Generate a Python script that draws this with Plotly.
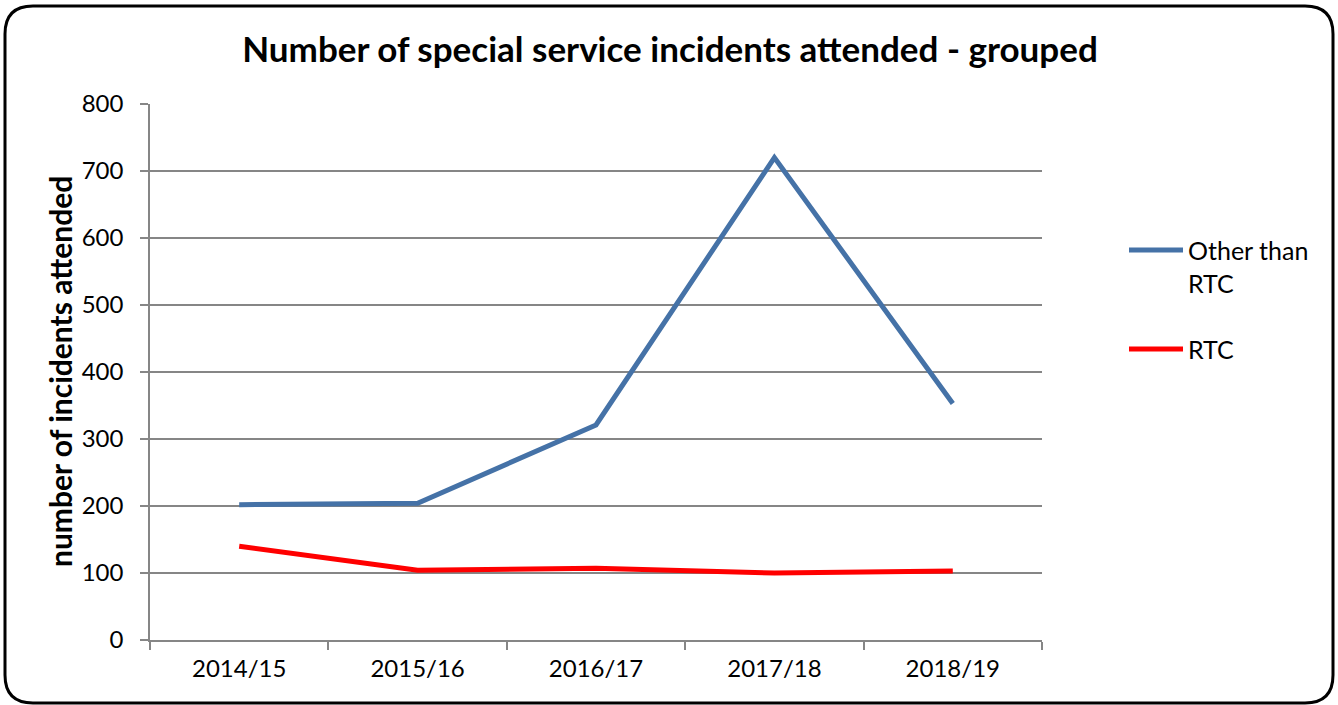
import plotly.graph_objects as go

categories = ["2014/15", "2015/16", "2016/17", "2017/18", "2018/19"]
other_than_rtc = [202, 204, 321, 720, 353]
rtc = [140, 104, 107, 100, 103]
series_names = ["Other than<br>RTC", "RTC"]
y_ticks = [0, 100, 200, 300, 400, 500, 600, 700, 800]

W, H = 1338, 705
L, R, T, B = 150, 1042, 104, 640
FONT = "Lato"

def px(x):
    return (x - L) / (R - L)

def py(y):
    return (B - y) / (B - T)

fig = go.Figure()
fig.add_trace(go.Scatter(x=categories, y=other_than_rtc, mode="lines",
                         line=dict(color="#4572A7", width=5), name=series_names[0],
                         showlegend=False))
fig.add_trace(go.Scatter(x=categories, y=rtc, mode="lines",
                         line=dict(color="#FF0000", width=5), name=series_names[1],
                         showlegend=False))

# rounded border
x0, x1, y0, y1, r = 5, 1333, 6, 703, 28
path = (f"M {px(x0+r)},{py(y0)} L {px(x1-r)},{py(y0)} Q {px(x1)},{py(y0)} {px(x1)},{py(y0+r)} "
        f"L {px(x1)},{py(y1-r)} Q {px(x1)},{py(y1)} {px(x1-r)},{py(y1)} "
        f"L {px(x0+r)},{py(y1)} Q {px(x0)},{py(y1)} {px(x0)},{py(y1-r)} "
        f"L {px(x0)},{py(y0+r)} Q {px(x0)},{py(y0)} {px(x0+r)},{py(y0)} Z")
shapes = [dict(type="path", path=path, xref="paper", yref="paper",
               line=dict(color="black", width=3), layer="above")]

# manual legend
annotations = []
legend_items = [(series_names[0], "#4572A7", 250), (series_names[1], "#FF0000", 349)]
for name, color, yy in legend_items:
    shapes.append(dict(type="line", xref="paper", yref="paper",
                       x0=px(1129), x1=px(1183), y0=py(yy), y1=py(yy),
                       line=dict(color=color, width=5)))
    annotations.append(dict(text=name, xref="paper", yref="paper", x=px(1186), y=py(yy - 17),
                            xanchor="left", yanchor="top", align="left", showarrow=False,
                            font=dict(family=FONT, size=25, color="black")))

annotations.append(dict(text="<b>number of incidents attended</b>", xref="paper", yref="paper",
                        x=px(60), y=py(372), textangle=-90, showarrow=False,
                        xanchor="center", yanchor="middle",
                        font=dict(family=FONT, size=30, color="black")))

fig.update_layout(
    width=W, height=H,
    margin=dict(l=L, r=W - R, t=T, b=H - B),
    paper_bgcolor="white", plot_bgcolor="white",
    title=dict(text="<b>Number of special service incidents attended - grouped</b>",
               x=670 / W, xanchor="center", y=1 - 50 / H, yanchor="middle",
               font=dict(family=FONT, size=35, color="black")),
    shapes=shapes, annotations=annotations,
    showlegend=False,
)
fig.update_xaxes(type="category", range=[-0.5, 4.5], showline=True, linecolor="#868686",
                 linewidth=1.5, ticks="outside", tickson="boundaries", ticklen=8,
                 tickcolor="#868686", tickwidth=1.5, showgrid=False, ticklabelstandoff=6,
                 tickfont=dict(family=FONT, size=24, color="black"))
fig.update_yaxes(range=[0, 800], tickvals=y_ticks, showline=True, linecolor="#868686",
                 linewidth=1.5, ticks="outside", ticklen=8, tickcolor="#868686", tickwidth=1.5,
                 showgrid=True, gridcolor="#868686", gridwidth=1.5, zeroline=False,
                 ticklabelstandoff=12,
                 tickfont=dict(family=FONT, size=24, color="black"))

fig.write_html("out.html", config={"displayModeBar": False},
               post_script="document.body.style.margin='0';")
